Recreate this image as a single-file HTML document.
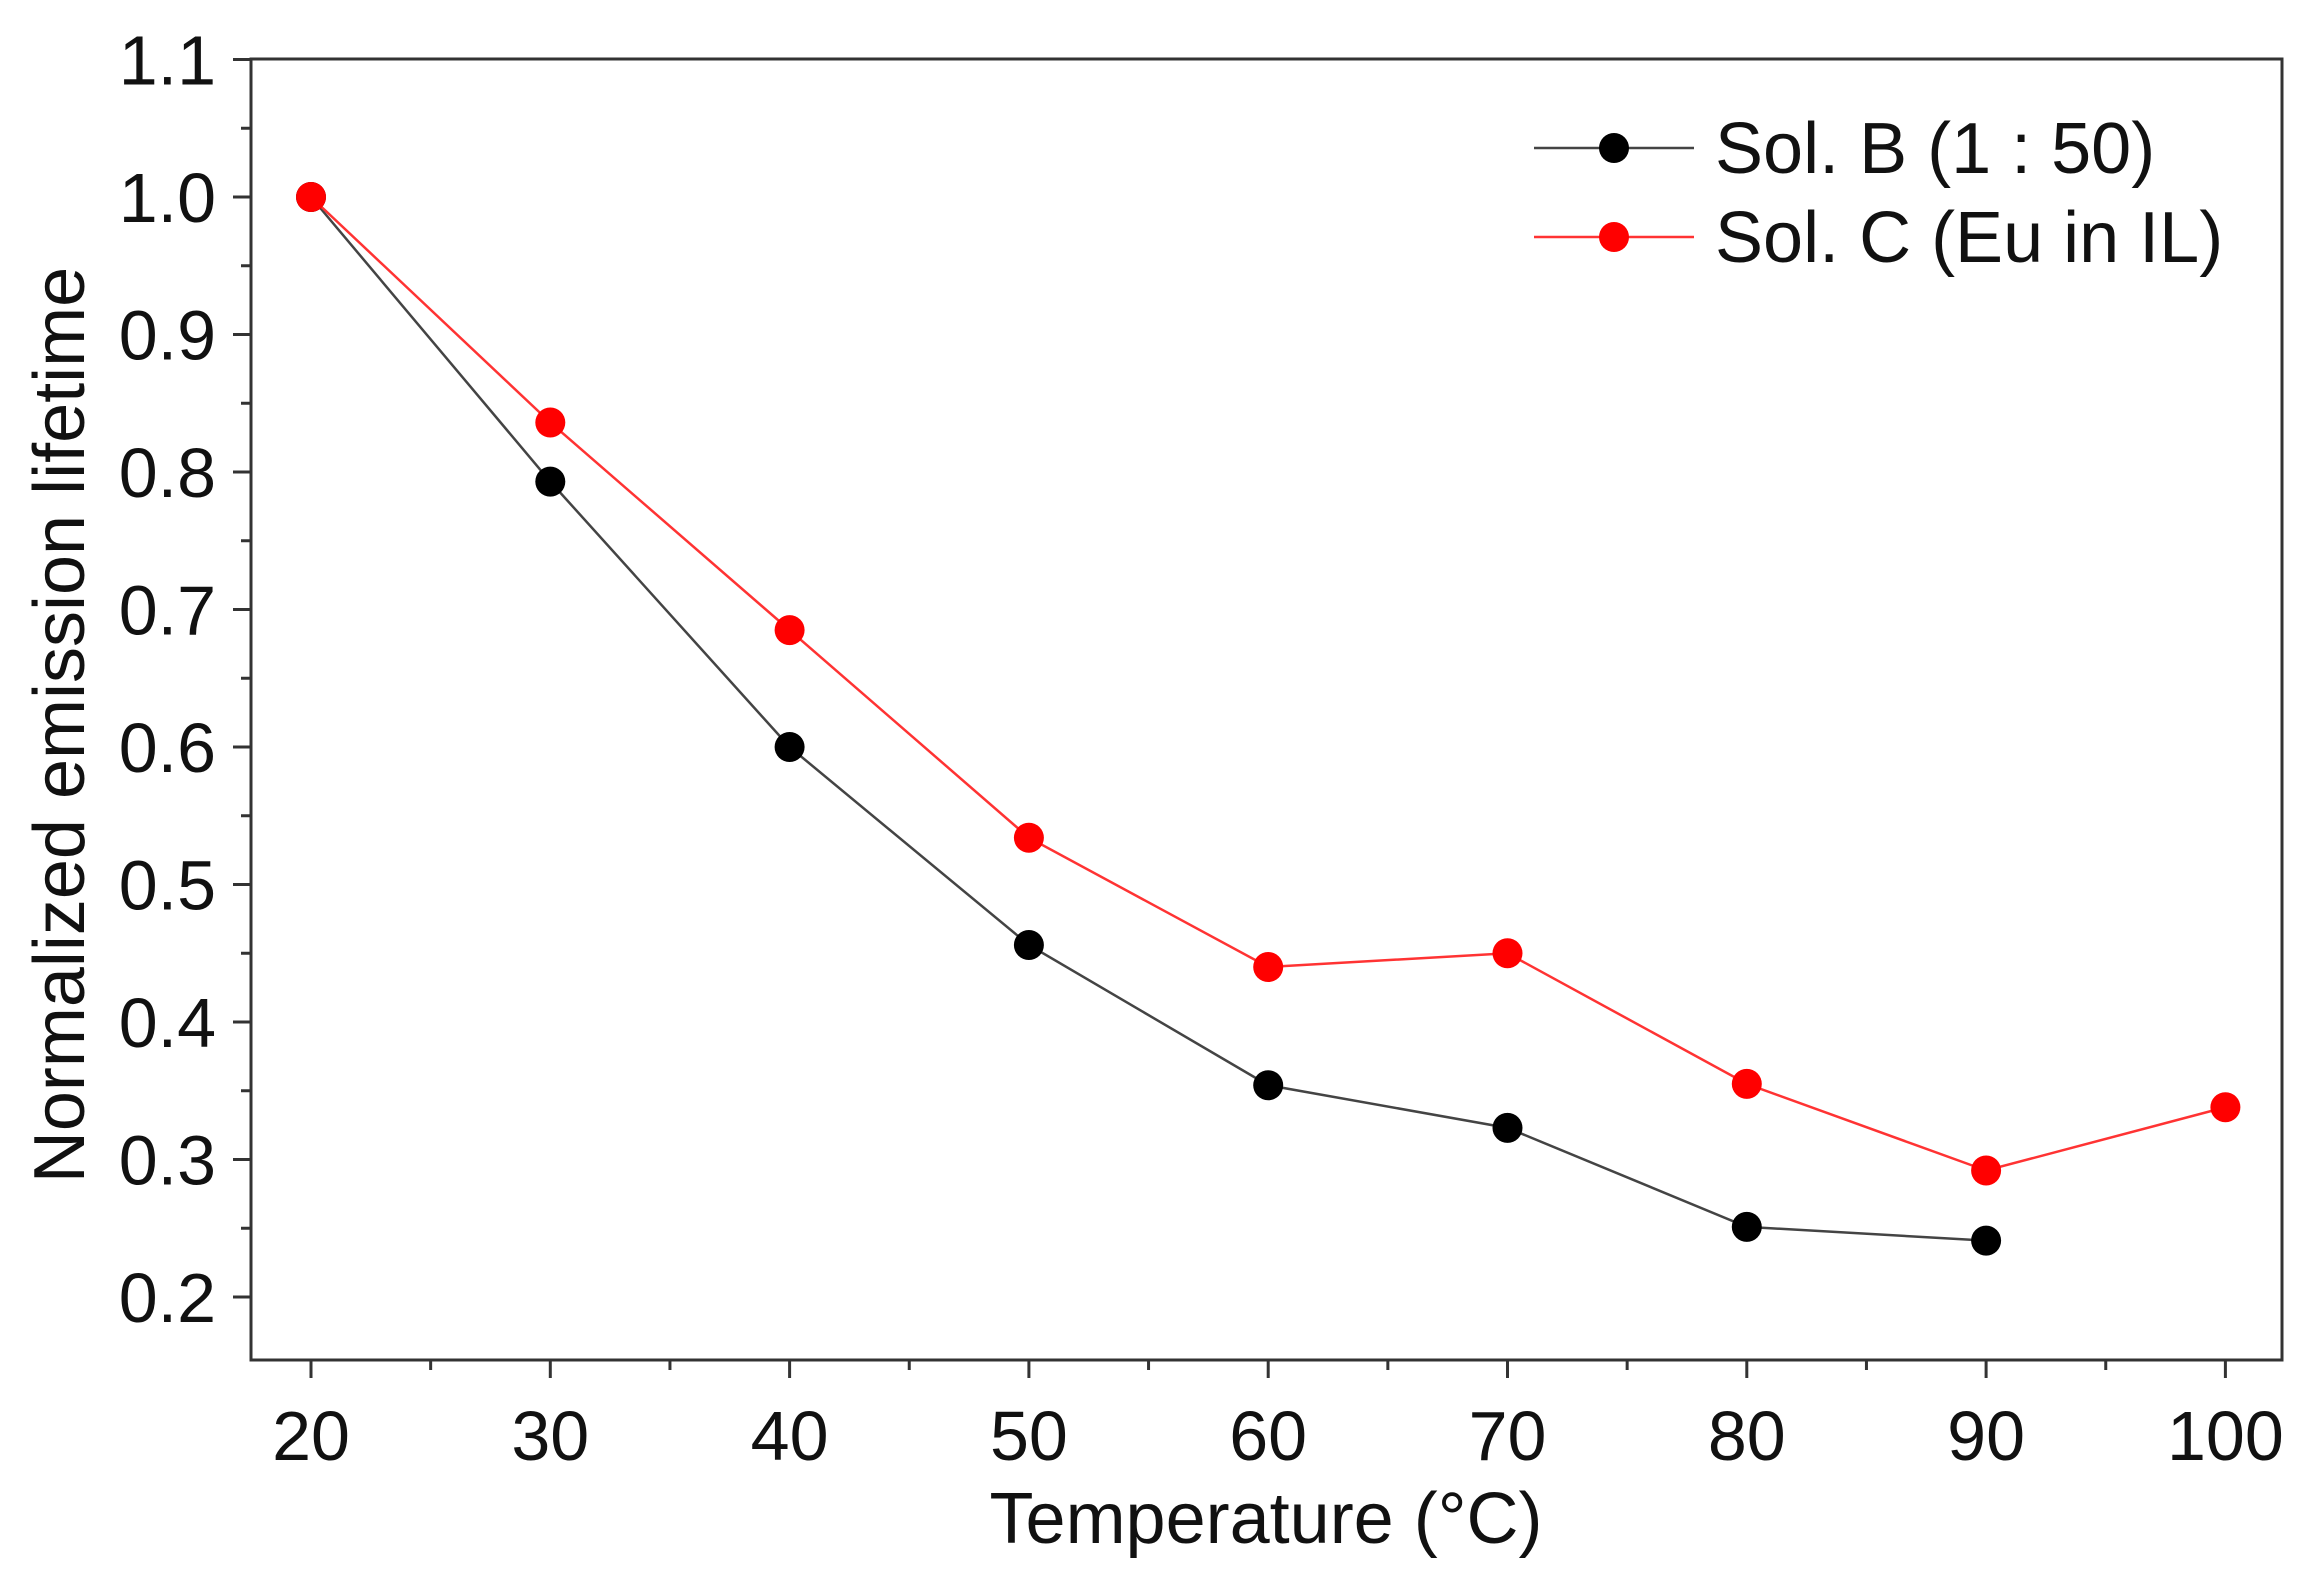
<!DOCTYPE html>
<html><head><meta charset="utf-8"><style>
body{margin:0;background:#fff;}
svg{display:block;font-family:"Liberation Sans",Arial,sans-serif;}
</style></head><body>
<svg id="chart" width="2313" height="1573" viewBox="0 0 2313 1573" xmlns="http://www.w3.org/2000/svg"></svg>
<script>
const temps = [20,30,40,50,60,70,80,90,100];
const solB = [1.0,0.793,0.600,0.456,0.354,0.323,0.251,0.241];
const solC = [1.0,0.836,0.685,0.534,0.440,0.450,0.355,0.292,0.338];
const xTicks = [20,30,40,50,60,70,80,90,100];
const yTicks = ["0.2","0.3","0.4","0.5","0.6","0.7","0.8","0.9","1.0","1.1"];

const NS="http://www.w3.org/2000/svg";
const svg=document.getElementById('chart');
const L=251,R=2282,T=59,B=1360;
const X=v=>311+(v-20)*23.93;
const Y=v=>197+(1.0-v)*1375;
function mk(t,a){const e=document.createElementNS(NS,t);for(const k in a)e.setAttribute(k,a[k]);svg.appendChild(e);return e;}

for(let v=15;v<=102;v+=5){
  if(X(v)<L-1||X(v)>R+1)continue;
  const major=v%10===0;
  const t=mk('line',{x1:X(v),x2:X(v),y1:B,y2:B+(major?18:10),stroke:'#333','stroke-width':3});
  
  
}
xTicks.forEach(v=>{
  const t=mk('text',{x:X(v),y:1460,'font-size':70,'text-anchor':'middle',fill:'#111'});
  t.textContent=v;
  
  
});
for(let i=0;i<=19;i++){
  const v=0.2+i*0.05;
  if(Y(v)<T-1)continue;
  const major=i%2===0;
  const t=mk('line',{x1:L,x2:L-(major?18:10),y1:Y(v),y2:Y(v),stroke:'#333','stroke-width':3});
  
  
}
yTicks.forEach(s=>{
  const t=mk('text',{x:216,y:Y(parseFloat(s))+25,'font-size':70,'text-anchor':'end',fill:'#111'});
  t.textContent=s;
  
  
});
const frame=mk('rect',{x:L,y:T,width:R-L,height:B-T,fill:'none',stroke:'#333','stroke-width':3});



function series(vals,color,lineColor,name){
  const pts=vals.map((v,i)=>X(temps[i])+','+Y(v)).join(' ');
  const pl=mk('polyline',{points:pts,fill:'none',stroke:lineColor,'stroke-width':2.5});
  
  
  vals.forEach((v,i)=>{
    const c=mk('circle',{cx:X(temps[i]),cy:Y(v),r:15,fill:color});
    
    
  });
}
series(solB,'#000','#444','sol-b');
series(solC,'#f00','#f33','sol-c');

[[148,'#000','#444','Sol. B (1 : 50)','legend-sol-b'],[237,'#f00','#f33','Sol. C (Eu in IL)','legend-sol-c']].forEach(d=>{
  const l=mk('line',{x1:1534,x2:1694,y1:d[0],y2:d[0],stroke:d[2],'stroke-width':2.5});
  
  
  const c=mk('circle',{cx:1614,cy:d[0],r:15,fill:d[1]});
  
  
  const t=mk('text',{x:1715,y:d[0]+25,'font-size':72,fill:'#111'});
  t.textContent=d[3];
  
  
});

const xt=mk('text',{x:1266,y:1543,'font-size':72,'text-anchor':'middle',fill:'#111'});
xt.textContent='Temperature (°C)';


const yt=mk('text',{x:0,y:0,'font-size':72,'text-anchor':'middle',fill:'#111',transform:'translate(84,725) rotate(-90)'});
yt.textContent='Normalized emission lifetime';


</script>
</body></html>
